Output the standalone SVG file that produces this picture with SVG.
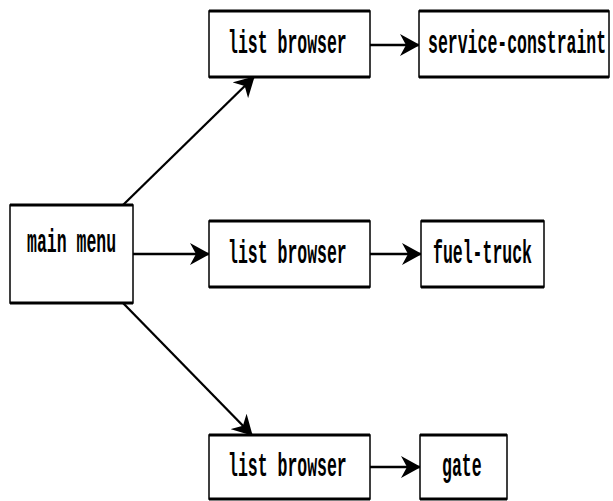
<svg xmlns="http://www.w3.org/2000/svg" width="613" height="501" viewBox="0 0 613 501">
  <style>
    .frame { fill: #fff; stroke: #000; stroke-width: 1.5; }
    .edge { stroke: #000; stroke-width: 3; fill: none; }
    .lbl { font-family: "Liberation Mono", "Courier New", monospace; font-weight: bold; font-size: 16.5px; fill: #000; }
    .conn { stroke: #000; stroke-width: 2.3; fill: none; marker-end: url(#head); }
  </style>
  <defs>
    <!-- dart-shaped arrowhead, tip on the end point -->
    <marker id="head" markerUnits="userSpaceOnUse" viewBox="0 0 20 22" markerWidth="20" markerHeight="22" refX="19" refY="11" orient="auto">
      <path d="M0,0 L20,11 L0,22 L6,11 Z" fill="#000"/>
    </marker>
  </defs>

  <g id="connectors">
    <line class="conn" x1="123" y1="205" x2="254" y2="77"/>
    <line class="conn" x1="133" y1="254" x2="209" y2="254"/>
    <line class="conn" x1="123" y1="303" x2="252" y2="435"/>
    <line class="conn" x1="370" y1="45" x2="419" y2="45"/>
    <line class="conn" x1="370" y1="254" x2="421" y2="254"/>
    <line class="conn" x1="370" y1="467" x2="420" y2="467"/>
  </g>

  <g id="main-menu">
    <rect class="frame" x="10" y="205" width="123" height="98"/>
    <path class="edge" d="M10,205 H133 M10,303 H133"/>
    <text class="lbl" transform="translate(27,252) scale(1,2)">main menu</text>
  </g>

  <g id="list-browser-1">
    <rect class="frame" x="209" y="11" width="161" height="66"/>
    <path class="edge" d="M209,11 H370 M209,77 H370"/>
    <text class="lbl" transform="translate(228,53) scale(1,2)">list browser</text>
  </g>

  <g id="service-constraint">
    <rect class="frame" x="419" y="11" width="190" height="66"/>
    <path class="edge" d="M419,11 H609 M419,77 H609"/>
    <text class="lbl" transform="translate(428,53) scale(1,2)">service-constraint</text>
  </g>

  <g id="list-browser-2">
    <rect class="frame" x="209" y="221" width="161" height="66"/>
    <path class="edge" d="M209,221 H370 M209,287 H370"/>
    <text class="lbl" transform="translate(228,263) scale(1,2)">list browser</text>
  </g>

  <g id="fuel-truck">
    <rect class="frame" x="421" y="221" width="123" height="66"/>
    <path class="edge" d="M421,221 H544 M421,287 H544"/>
    <text class="lbl" transform="translate(433,263) scale(1,2)">fuel-truck</text>
  </g>

  <g id="list-browser-3">
    <rect class="frame" x="209" y="435" width="161" height="64"/>
    <path class="edge" d="M209,435 H370 M209,499 H370"/>
    <text class="lbl" transform="translate(228,476) scale(1,2)">list browser</text>
  </g>

  <g id="gate">
    <rect class="frame" x="420" y="435" width="87" height="64"/>
    <path class="edge" d="M420,435 H507 M420,499 H507"/>
    <text class="lbl" transform="translate(442,476) scale(1,2)">gate</text>
  </g>
</svg>
